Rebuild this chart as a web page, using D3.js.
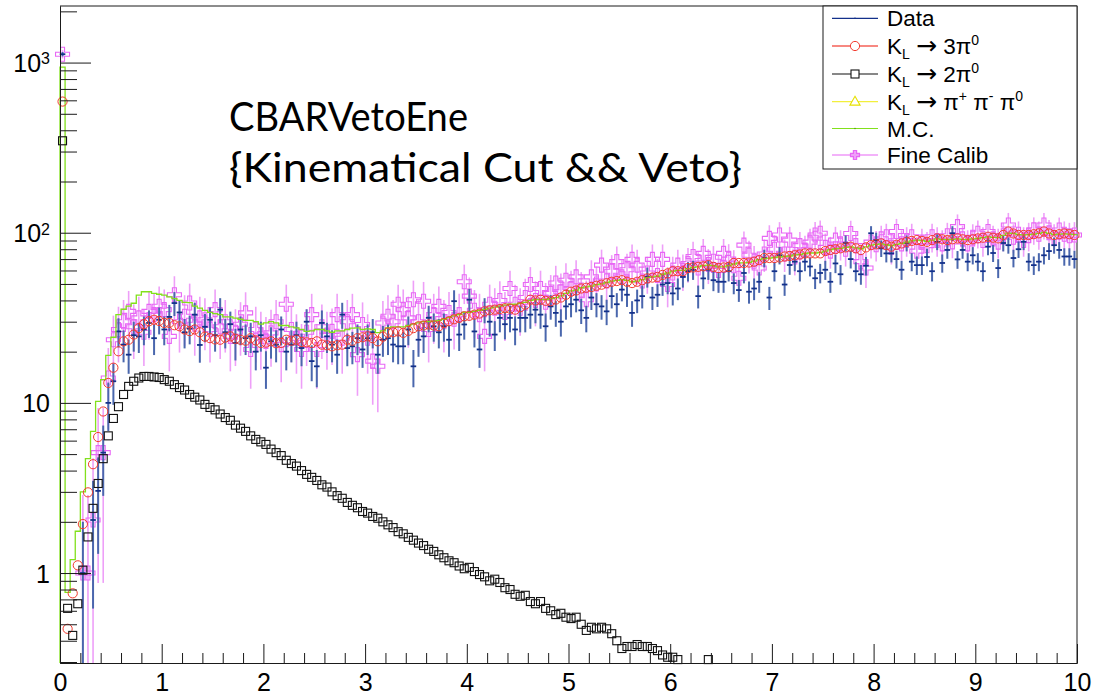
<!DOCTYPE html>
<html>
<head>
<meta charset="utf-8">
<script src="https://cdn.jsdelivr.net/npm/d3@7"></script>
<style>
  body { margin: 0; background: #ffffff; }
  svg { display: block; }
</style>
</head>
<body>
<svg id="chart" width="1094" height="695"></svg>
<script>
// ---- Histogram binning: 200 bins of 0.05 on [0, 10] ----
const xMin = 0, xMax = 10, nBins = 200;

// ---- Bin contents (bins 0..199) ----
const dataCounts = [
  1120, 0, 0, 0, 1.0, 0, 2.05, 3.04, 5.1, 10, 13.4, 26.3, 22, 19.2, 25, 24.6, 27, 29.5, 24, 30.8,
  27, 32, 38.6, 34, 26, 27.3, 33, 21.9, 28, 30.8, 25, 35.3, 26, 29, 22.5, 27, 24, 24.6, 20, 25,
  16.1, 23, 22, 27, 20, 22, 25, 21, 30, 17.6, 16.4, 29.5, 24.6, 22, 19.2, 33, 21, 21.5, 24, 20.6,
  24, 26, 19.2, 23.5, 24, 22, 21.5, 21.5, 27, 16.4, 23.5, 24.6, 31.6, 28.2, 26, 28.2, 23.5, 39.6, 25.2, 28.9,
  40.4, 26.3, 20.6, 35.3, 30, 25.2, 31.6, 29, 31.6, 27, 31.6, 31.6, 33, 35.3, 33, 28.2, 36.9, 33.8, 30, 36.9,
  38, 40.4, 35, 31.6, 41.6, 38, 36.9, 34.5, 42.4, 38, 46.3, 43.2, 33.8, 40, 42.4, 55, 41.6, 43.2, 49.6, 50.6,
  44, 47, 55, 59.4, 60.6, 42.4, 53.9, 60.6, 52.6, 51.5, 51.5, 59.4, 50.6, 46, 58, 45, 47, 51.5, 71, 41.6,
  59.4, 73.7, 49.6, 64.6, 67.6, 59.4, 67.6, 63.3, 54, 58, 60.6, 51.5, 66, 57, 87, 70, 59.4, 57, 64, 99.3,
  90.5, 81, 75.6, 75.6, 70, 60.6, 87, 67.6, 64.5, 64.5, 72, 59.4, 88.4, 66.4, 79.2, 99.3, 69.7, 79.2, 67.6, 73.7,
  67.6, 59.4, 82.8, 76, 62, 87, 84.5, 71, 80, 88.4, 67.6, 64.5, 67.6, 73.7, 78, 84.5, 79.2, 72.5, 72.5, 70
];

const kl3pi0 = [
  590, 0.47, 0.76, 1.11, 1.94, 2.98, 4.36, 6.3, 8.9, 13.1, 16.1, 20.1, 23, 23.5, 25.2, 27.5, 29, 30.2, 30.8, 30.3,
  29.5, 29.5, 28.6, 28.2, 27, 26.4, 27, 26, 24.5, 24, 23.6, 23.5, 24.2, 24.6, 23.8, 23.5, 23.2, 24, 23.3, 22.5,
  22.6, 23, 22.4, 22.5, 23.5, 23.2, 23.5, 22.8, 22.7, 22.5, 23, 22, 21.8, 21.5, 21.8, 22, 23.5, 23.2, 24, 24.3,
  24.6, 24, 23, 24.5, 25.9, 26, 26.3, 25.8, 26.5, 27.5, 28.2, 28.5, 28.9, 28.5, 28.2, 29.5, 30.2, 31, 31.6, 32.3,
  32.5, 33, 33.5, 34.5, 35, 35.3, 35.6, 36, 35.8, 35.3, 36.5, 37.8, 40.4, 40, 40.4, 39.8, 39.6, 40.5, 41.6, 43.2,
  45, 45.8, 47, 47.5, 48, 48.8, 49.5, 50.5, 51.5, 52, 52.6, 51.5, 50.6, 51.5, 52.6, 53.9, 54.5, 55, 56.5, 57.7,
  59.4, 59.4, 59.4, 62, 62.5, 63, 63.5, 64.5, 63, 62, 62.5, 63, 66.4, 66.4, 66.4, 66.8, 67.6, 69, 71, 71,
  71, 71.5, 72.5, 73, 73.7, 74.5, 75.6, 75.6, 75.6, 75.6, 78, 79.2, 80, 81, 82, 82.8, 81, 79.2, 82, 84.5,
  85.5, 86.5, 84.5, 82.8, 85, 86.5, 88.4, 89.5, 90.5, 89.5, 88.4, 90.5, 92.6, 91.5, 90.5, 91.5, 92.6, 91.5, 90.5, 91.5,
  92.6, 93.5, 94.7, 93.5, 92.6, 97, 101.7, 99, 97, 97, 97, 98, 99.2, 101.7, 99, 97, 98, 99, 98, 97
];

// K_L -> 2pi0 is only filled up to ~6.4; later bins are empty
const kl2pi0 = [
  347, 0.62, 0.43, 0.66, 1.04, 1.63, 2.4, 3.36, 4.7, 6.4, 8.1, 9.5, 11.2, 12.5, 13.4, 14, 14.3, 14.3, 14.2, 14.1,
  13.7, 13.4, 12.8, 12.3, 11.9, 11.2, 10.8, 10.4, 9.8, 9.4, 9.1, 8.6, 8.2, 7.9, 7.4, 7.1, 6.8, 6.4, 6.1, 5.9,
  5.7, 5.35, 5.1, 4.9, 4.6, 4.4, 4.25, 4.0, 3.8, 3.65, 3.5, 3.3, 3.2, 3.0, 2.85, 2.75, 2.6, 2.5, 2.42, 2.3,
  2.25, 2.15, 2.1, 2.0, 1.92, 1.85, 1.75, 1.7, 1.62, 1.56, 1.5, 1.45, 1.38, 1.34, 1.28, 1.23, 1.18, 1.15, 1.1, 1.06,
  1.08, 1.02, 0.98, 0.95, 0.9, 0.92, 0.88, 0.82, 0.8, 0.75, 0.73, 0.74, 0.68, 0.66, 0.68, 0.62, 0.6, 0.57, 0.58, 0.55,
  0.54, 0.55, 0.5, 0.46, 0.48, 0.47, 0.48, 0.47, 0.44, 0.4, 0.36, 0.37, 0.37, 0.38, 0.37, 0.37, 0.36, 0.35, 0.33, 0.32,
  0.32, 0.31, 0.28, 0.27, 0.26, 0.27, 0.25, 0.31
];

const monteCarlo = [
  940, 0.77, 1.2, 1.76, 3.0, 4.7, 6.8, 10.2, 13.7, 19, 24.3, 33, 35.5, 37, 38.5, 43, 45, 45, 44, 43.5,
  43, 42, 41, 40, 39, 38.8, 37, 36, 35, 34, 33.5, 33, 32, 32, 31.5, 31, 30.5, 30.5, 30, 29,
  29.5, 30, 29.5, 28.5, 28.5, 28, 27.6, 27, 26.3, 26.5, 27, 27, 26.5, 26, 26.5, 26.5, 27, 27.5, 27.6, 27,
  27.2, 27, 25.9, 26.5, 27.6, 28, 28, 28, 28.5, 29, 29.5, 30, 30, 30.2, 30.5, 31, 31.7, 32.5, 33, 34,
  34, 34.5, 35, 35.4, 36, 36.5, 37, 37.5, 38, 38, 38.5, 39, 40, 40.5, 40.5, 40.5, 41, 41.5, 42.5, 44,
  45.5, 46, 47.5, 48, 48.5, 49.5, 50, 51, 52, 52.5, 53, 52.5, 51.5, 52, 53, 54.5, 55, 55.5, 57, 58,
  59.5, 60, 60, 61.5, 62.5, 63, 64, 64.5, 64, 63, 63, 64, 65.5, 66.5, 66.5, 67, 68, 69.5, 70.5, 71,
  71.5, 72, 72.5, 73, 74, 74.5, 75.5, 76, 76, 76.5, 78, 79.5, 80.5, 81, 82, 82.5, 81.5, 80.5, 82.5, 84.5,
  85.5, 86, 85, 84, 85.5, 86.5, 88, 89.5, 90.5, 90, 89, 90.5, 92, 91.5, 91, 91.5, 92, 91.5, 91, 92,
  92.5, 93.5, 94.5, 94, 93.5, 96.5, 99.5, 99, 97.5, 97, 97.5, 98, 99, 100.5, 99, 97.5, 98, 98.5, 98, 97.5
];

const fineCalib = [
  1120, 0, 0, 0, 1.0, 1.0, 2.05, 5.1, 5.1, 14, 23.5, 27, 30, 34.5, 28, 31.6, 26, 34.5, 33, 37,
  35.3, 24.6, 43.2, 30, 32.3, 38.6, 29, 31.6, 30.8, 27, 35.3, 28, 30, 24.6, 26, 29, 33.8, 20.6, 27, 25,
  23, 25.8, 30, 22, 38, 27, 24, 20.6, 26, 33, 20.6, 28, 25, 26.3, 33, 24, 30, 33, 19.2, 28.9,
  24, 17.6, 16.4, 29.5, 32.3, 30, 38, 35.3, 31.6, 40.4, 30, 39.6, 27, 33, 36.9, 30, 34, 31, 33, 51.5,
  42.4, 35, 33, 24.6, 38, 36, 40, 34, 47, 38, 36, 41.6, 49.6, 40, 47, 39, 44, 50.6, 45, 52.6,
  47, 55, 46, 40.4, 55, 50, 64.5, 52, 59.4, 67.6, 55, 60.6, 69.7, 64.5, 52, 58, 69.7, 56, 69.7, 49.6,
  58, 64.5, 60, 66, 72.5, 62, 75.6, 65, 68, 60, 75.6, 70, 64, 54, 84.5, 73.7, 68, 62, 75, 92.6,
  80, 97, 75, 90.5, 72, 84, 79.2, 88, 97, 99.3, 82, 78, 90.5, 86, 80, 99, 84, 67.6, 62, 88,
  85, 92, 94.7, 82, 101.7, 86, 90, 94.7, 78, 88, 84, 94.7, 90, 86, 96, 88.4, 108.6, 92, 86, 94,
  99.3, 90, 101.7, 92, 88, 96, 111, 94, 98, 90, 96, 104, 98, 111, 100, 94, 103.7, 98, 96, 97
];
// each Fine Calib entry carries this weight (errors are sqrt(w * content))
const fineCalibWeight = 3.5;

// ---- Axis ticks and labels ----
const xMajorTicks = [0, 1, 2, 3, 4, 5, 6, 7, 8, 9, 10];
const xMinorTicks = [0.2, 0.4, 0.6, 0.8, 1.2, 1.4, 1.6, 1.8, 2.2, 2.4, 2.6, 2.8, 3.2, 3.4, 3.6, 3.8,
  4.2, 4.4, 4.6, 4.8, 5.2, 5.4, 5.6, 5.8, 6.2, 6.4, 6.6, 6.8, 7.2, 7.4, 7.6, 7.8,
  8.2, 8.4, 8.6, 8.8, 9.2, 9.4, 9.6, 9.8];
const yMajorTicks = [1, 10, 100, 1000];
const yLabelBase = ["1", "10", "10", "10"];
const yLabelExp = ["", "", "2", "3"];
const yMinorTicks = [0.3, 0.4, 0.5, 0.6, 0.7, 0.8, 0.9, 2, 3, 4, 5, 6, 7, 8, 9,
  20, 30, 40, 50, 60, 70, 80, 90, 200, 300, 400, 500, 600, 700, 800, 900, 2000];

// ---- Legend ----
const legendLabels = ["Data", "K_L → 3π^0", "K_L → 2π^0", "K_L → π^+ π^- π^0", "M.C.", "Fine Calib"];
const titleLines = ["CBARVetoEne", "{Kinematical Cut && Veto}"];

// ---- Colours ----
const cData = "#13308a", cDataBar = "#4a67ad";
const c3pi = "#f23a2e", c2pi = "#111111", cPPP = "#f2ef3c";
const cMC = "#82e01c", cFine = "#e866f5", cFineBar = "#ee9ff8";

// ---- Frame and scales ----
const svg = d3.select("#chart");
const frame = { left: 60, right: 1077, top: 6, bottom: 663 };
const x = d3.scaleLinear().domain([xMin, xMax]).range([frame.left, frame.right]);
const y = d3.scaleLog().domain([0.296, 2150]).range([frame.bottom, frame.top]);
const yLo = y.domain()[0], yHi = y.domain()[1];
const binW = (xMax - xMin) / nBins;
const binCenter = i => xMin + (i + 0.5) * binW;
const axisFont = "'Liberation Sans', Arial, Helvetica, sans-serif";
const axisColor = "#1a1a1a";

svg.append("rect").attr("width", 1094).attr("height", 695).attr("fill", "#fff");

// frame: top and right edges
svg.append("path")
  .attr("d", `M${frame.left},${frame.top}H${frame.right}V${frame.bottom}`)
  .attr("fill", "none").attr("stroke", axisColor).attr("stroke-width", 1);

// ---- Marks ----
const clampY = v => Math.min(Math.max(v, yLo), yHi);
const inRange = v => v >= yLo && v <= yHi;
const crossPath = (a, L) =>
  `M${-a},${-L}H${a}V${-a}H${L}V${a}H${a}V${L}H${-a}V${a}H${-L}V${-a}H${-a}Z`;

// Fine Calib: error bars and open-cross markers (drawn underneath the rest)
const finePts = fineCalib.map((v, i) => ({ i, v, e: Math.sqrt(fineCalibWeight * v) })).filter(d => d.v > 0);
const gFine = svg.append("g");
gFine.selectAll("line").data(finePts).join("line")
  .attr("x1", d => x(binCenter(d.i))).attr("x2", d => x(binCenter(d.i)))
  .attr("y1", d => y(clampY(d.v - d.e))).attr("y2", d => y(clampY(d.v + d.e)))
  .attr("stroke", cFineBar).attr("stroke-width", 1.6);
gFine.selectAll("path").data(finePts.filter(d => inRange(d.v))).join("path")
  .attr("d", crossPath(2, 7))
  .attr("transform", d => `translate(${x(binCenter(d.i))},${y(d.v)})`)
  .attr("fill", "none").attr("stroke", cFine).attr("stroke-width", 1.1);

// Data: error bars with half-bin horizontal ticks
const dataPts = dataCounts.map((v, i) => ({ i, v, e: Math.sqrt(v) })).filter(d => d.v > 0);
const gData = svg.append("g");
gData.selectAll("line.ey").data(dataPts).join("line")
  .attr("class", "ey")
  .attr("x1", d => x(binCenter(d.i))).attr("x2", d => x(binCenter(d.i)))
  .attr("y1", d => y(clampY(d.v - d.e))).attr("y2", d => y(clampY(d.v + d.e)))
  .attr("stroke", cDataBar).attr("stroke-width", 2);
gData.selectAll("line.ex").data(dataPts.filter(d => inRange(d.v))).join("line")
  .attr("class", "ex")
  .attr("x1", d => x(binCenter(d.i)) - 2.8).attr("x2", d => x(binCenter(d.i)) + 2.8)
  .attr("y1", d => y(d.v)).attr("y2", d => y(d.v))
  .attr("stroke", cData).attr("stroke-width", 1.8);

// M.C. histogram as a step outline
const mcPts = [[xMin, yLo]]
  .concat(monteCarlo.map((v, i) => [xMin + i * binW, v]))
  .concat([[xMax, monteCarlo[monteCarlo.length - 1]]]);
svg.append("path")
  .attr("d", d3.line().x(d => x(d[0])).y(d => y(clampY(d[1]))).curve(d3.curveStepAfter)(mcPts))
  .attr("fill", "none").attr("stroke", cMC).attr("stroke-width", 1.3);

// K_L -> 3pi0: open circles
svg.append("g").selectAll("circle")
  .data(kl3pi0.map((v, i) => ({ i, v })).filter(d => inRange(d.v)))
  .join("circle")
  .attr("cx", d => x(binCenter(d.i))).attr("cy", d => y(d.v)).attr("r", 4.6)
  .attr("fill", "none").attr("stroke", c3pi).attr("stroke-width", 1);

// K_L -> 2pi0: open squares
svg.append("g").selectAll("rect")
  .data(kl2pi0.map((v, i) => ({ i, v })).filter(d => inRange(d.v)))
  .join("rect")
  .attr("x", d => x(binCenter(d.i)) - 4).attr("y", d => y(d.v) - 4)
  .attr("width", 8).attr("height", 8)
  .attr("fill", "none").attr("stroke", c2pi).attr("stroke-width", 1.1);

// ---- Axes ----
function styleAxis(g) {
  g.attr("color", axisColor);
  g.selectAll("path.domain").attr("stroke-width", 1);
  g.selectAll(".tick line").attr("stroke-width", 1);
}
const gxMinor = svg.append("g").attr("transform", `translate(0,${frame.bottom})`)
  .call(d3.axisBottom(x).tickValues(xMinorTicks).tickSize(-10).tickSizeOuter(0).tickFormat(""));
styleAxis(gxMinor);
const gxMajor = svg.append("g").attr("transform", `translate(0,${frame.bottom})`)
  .call(d3.axisBottom(x).tickValues(xMajorTicks).tickSize(-19).tickSizeOuter(0).tickPadding(10)
    .tickFormat(d3.format("d")));
styleAxis(gxMajor);
gxMajor.selectAll(".tick text").attr("font-family", axisFont).attr("font-size", 25).attr("fill", "#000");

const gyMinor = svg.append("g").attr("transform", `translate(${frame.left},0)`)
  .call(d3.axisLeft(y).tickValues(yMinorTicks).tickSize(-17).tickSizeOuter(0).tickFormat(""));
styleAxis(gyMinor);
const gyMajor = svg.append("g").attr("transform", `translate(${frame.left},0)`)
  .call(d3.axisLeft(y).tickValues(yMajorTicks).tickSize(-31).tickSizeOuter(0).tickPadding(10)
    .tickFormat(""));
styleAxis(gyMajor);
gyMajor.selectAll(".tick text").each(function (d, i) {
  const t = d3.select(this)
    .attr("font-family", axisFont).attr("font-size", 25).attr("fill", "#000").attr("dy", "0.36em");
  t.append("tspan").text(yLabelBase[i]);
  if (yLabelExp[i]) {
    t.append("tspan").attr("dy", "-0.48em").attr("font-size", 16).text(yLabelExp[i]);
  }
});

// ---- Title ----
const titleFont = "Lato, 'Open Sans', sans-serif";
svg.append("text").attr("x", 229).attr("y", 131)
  .attr("font-family", titleFont).attr("font-size", 40).attr("fill", "#000")
  .attr("textLength", 239).attr("lengthAdjust", "spacingAndGlyphs")
  .text(titleLines[0]);
svg.append("text").attr("x", 229).attr("y", 182)
  .attr("font-family", titleFont).attr("font-size", 40).attr("fill", "#000")
  .attr("textLength", 513).attr("lengthAdjust", "spacingAndGlyphs")
  .text(titleLines[1]);

// ---- Legend ----
const leg = { x0: 823, x1: 1077, y0: 6, y1: 169 };
const gLeg = svg.append("g");
gLeg.append("rect").attr("x", leg.x0).attr("y", leg.y0)
  .attr("width", leg.x1 - leg.x0).attr("height", leg.y1 - leg.y0)
  .attr("fill", "#fff").attr("stroke", axisColor).attr("stroke-width", 1);
const rowY = [18.3, 46, 74, 101.7, 128.5, 155];
const rowColor = [cData, c3pi, c2pi, cPPP, cMC, cFine];
const lineX0 = 832, lineX1 = 878, markX = 855, textX = 887;
rowY.forEach((ry, k) => {
  gLeg.append("line").attr("x1", lineX0).attr("x2", lineX1).attr("y1", ry).attr("y2", ry)
    .attr("stroke", rowColor[k]).attr("stroke-width", k === 1 ? 1.4 : 1.2)
    .attr("stroke-opacity", k === 1 ? 0.8 : 1);
});
// legend markers
gLeg.append("circle").attr("cx", markX).attr("cy", rowY[0]).attr("r", 0.8).attr("fill", cData);
gLeg.append("circle").attr("cx", markX).attr("cy", rowY[1]).attr("r", 4.6)
  .attr("fill", "#fff").attr("stroke", c3pi).attr("stroke-width", 1);
gLeg.append("rect").attr("x", markX - 4).attr("y", rowY[2] - 4).attr("width", 8).attr("height", 8)
  .attr("fill", "#fff").attr("stroke", c2pi).attr("stroke-width", 1.1);
gLeg.append("path").attr("d", d3.symbol(d3.symbolTriangle, 45)())
  .attr("transform", `translate(${markX},${rowY[3] + 0.5})`)
  .attr("fill", "#fff").attr("stroke", "#e6e000").attr("stroke-width", 1.1);
gLeg.append("circle").attr("cx", markX).attr("cy", rowY[4]).attr("r", 0.8).attr("fill", "#5a9a10");
gLeg.append("path").attr("d", crossPath(1.6, 4.5))
  .attr("transform", `translate(${markX},${rowY[5]})`)
  .attr("fill", cFineBar).attr("stroke", cFine).attr("stroke-width", 1.2);

// legend labels: "_" marks a subscript, "^" a superscript; the arrow uses a wider glyph
const legFont = 22.5;
legendLabels.forEach((lab, k) => {
  const t = gLeg.append("text").attr("x", textX).attr("y", rowY[k] + 8)
    .attr("font-family", axisFont).attr("font-size", legFont).attr("fill", "#000");
  const parts = lab.split(/([_^][^ ]+|→)/).filter(s => s.length);
  let shift = 0;
  parts.forEach(p => {
    if (p[0] === "_" || p[0] === "^") {
      const dy = p[0] === "_" ? 5 : -9;
      t.append("tspan").attr("dy", dy - shift).attr("font-size", 14).text(p.slice(1));
      shift = dy;
    } else if (p === "→") {
      t.append("tspan").attr("dy", -shift).attr("font-family", "'DejaVu Sans', sans-serif")
        .attr("font-size", 25).text(p);
      shift = 0;
    } else {
      t.append("tspan").attr("dy", -shift).text(p);
      shift = 0;
    }
  });
});
</script>
</body>
</html>
